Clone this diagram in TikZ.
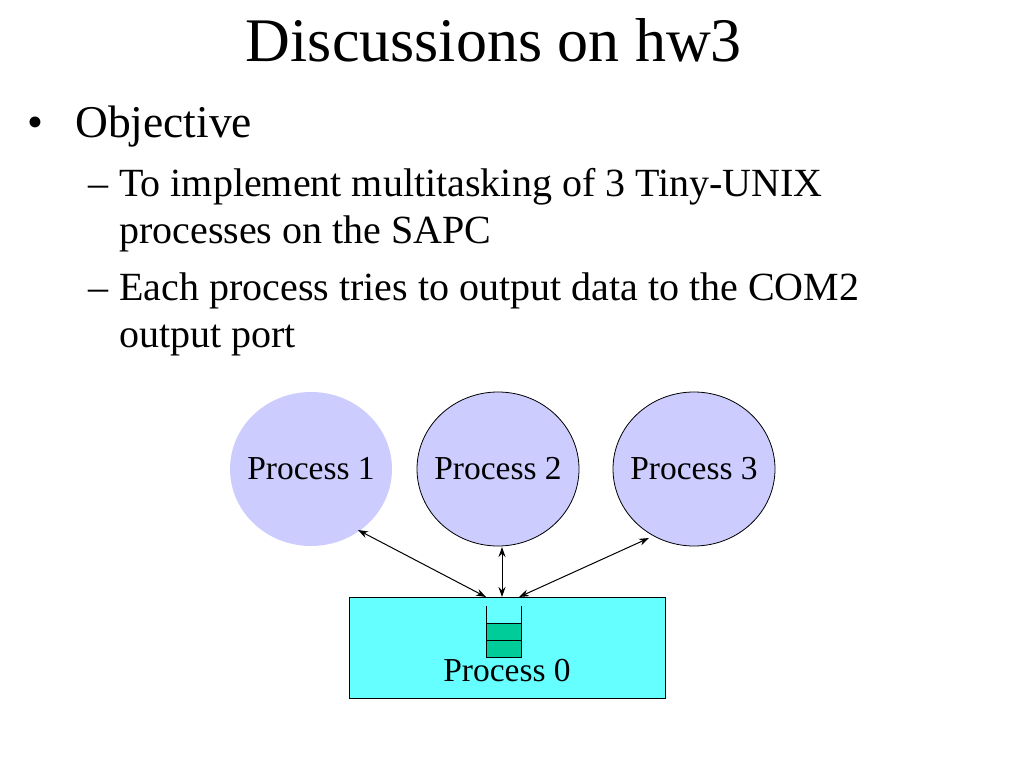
\documentclass[tikz,border=0pt]{standalone}
\usepackage{fontspec}
\setmainfont{Liberation Serif}
\usetikzlibrary{arrows.meta,shapes.geometric}
\definecolor{proc}{HTML}{CCCCFF}
\definecolor{box}{HTML}{66FFFF}
\definecolor{stk}{HTML}{00CC99}
\tikzset{
  txt/.style={anchor=base west, inner sep=0pt, font=\fontsize{40}{40}\selectfont},
  lvlone/.style={anchor=base west, inner sep=0pt, font=\fontsize{45.5}{45.5}\selectfont},
  procnode/.style={ellipse, fill=proc, minimum width=162pt, minimum height=154pt, inner sep=0pt},
  proclabel/.style={inner sep=0pt, font=\fontsize{33.5}{33.5}\selectfont},
  link/.style={{Stealth[length=10pt,width=7pt]}-{Stealth[length=10pt,width=7pt]}, line width=1pt},
}
\begin{document}
\begin{tikzpicture}[x=1pt,y=-1pt]
\useasboundingbox (0,0) rectangle (1024,768);
\node[anchor=base, inner sep=0pt, font=\fontsize{62}{62}\selectfont] (title) at (494,62) {Discussions on hw3};
\node[lvlone] (b1) at (27,137) {•};
\node[lvlone] (obj) at (75,137) {Objective};
\node[txt] (d1) at (88,196) {–};
\node[txt] (l1) at (119,196) {To implement multitasking of 3 Tiny-UNIX};
\node[txt] (l2) at (119,243) {processes on the SAPC};
\node[txt] (d2) at (88,300) {–};
\node[txt] (l3) at (119,300) {Each process tries to output data to the COM2};
\node[txt] (l4) at (119,347) {output port};

\node[procnode] (p1) at (311,469) {};
\node[procnode, draw=black, line width=0.8pt] (p2) at (498,469) {};
\node[procnode, draw=black, line width=0.8pt] (p3) at (694,469) {};
\node[proclabel] (p1t) at (p1.center) {Process 1};
\node[proclabel] (p2t) at (p2.center) {Process 2};
\node[proclabel] (p3t) at (p3.center) {Process 3};

\node[draw=black, fill=box, line width=0.8pt, minimum width=316pt, minimum height=101pt, inner sep=0pt] (p0) at (507,647.5) {};
\node[inner sep=0pt, anchor=base, font=\fontsize{33.5}{33.5}\selectfont] (p0t) at (507,681) {Process 0};

% stack
\fill[stk] (486,623) rectangle (521,657);
\draw[line width=0.8pt] (486,606) -- (486,657) -- (521,657) -- (521,606);
\draw[line width=0.8pt] (486,623) -- (521,623);
\draw[line width=0.8pt] (486,640) -- (521,640);

\coordinate (a1) at (486,597);
\coordinate (a2) at (502,597);
\coordinate (a3) at (519,597);
\coordinate (e1) at (358,530);
\coordinate (e2) at (502,547);
\coordinate (e3) at (649,538);
\draw[link] (e1) -- (a1);
\draw[link] (e2) -- (a2);
\draw[link] (e3) -- (a3);
\end{tikzpicture}
\end{document}
